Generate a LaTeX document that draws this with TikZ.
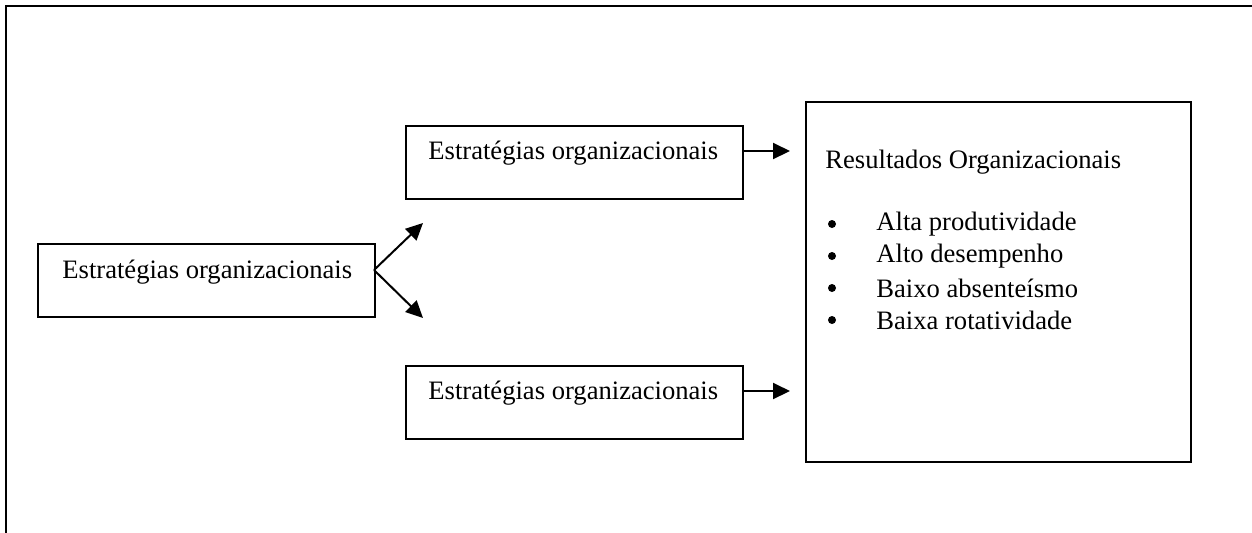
\documentclass[tikz,border=0pt]{standalone}
\usepackage{fontspec}
\setmainfont{Liberation Serif}
\usetikzlibrary{arrows.meta}
\begin{document}
\begin{tikzpicture}[x=0.5pt,y=-0.5pt,
  box/.style={draw,line width=1pt,inner sep=0pt},
  txt/.style={anchor=west,inner sep=0pt,font=\fontsize{13.3}{15}\selectfont},
  dot/.style={circle,fill,inner sep=0pt,minimum size=4pt},
  arr/.style={line width=1pt,-{Triangle[length=8.5pt,width=8pt]}}]
\useasboundingbox (0,0) rectangle (1252,532);
\draw[line width=1.3pt] (6,540) -- (6,6) -- (1260,6);
% boxes
\node[box,minimum width=337pt*0.5,minimum height=73pt*0.5] (b1) at (206.5,280.5) {};
\node[box,minimum width=337pt*0.5,minimum height=73pt*0.5] (b2) at (574.5,162.5) {};
\node[box,minimum width=337pt*0.5,minimum height=73pt*0.5] (b3) at (574.5,402.5) {};
\node[box,minimum width=385pt*0.5,minimum height=360pt*0.5] (r) at (998.5,282) {};
% texts
\node[txt] (t1) at (62,272) {Estratégias organizacionais};
\node[txt] (t2) at (428,153) {Estratégias organizacionais};
\node[txt] (t3) at (428,393) {Estratégias organizacionais};
\node[txt] (tr) at (825,162) {Resultados Organizacionais};
\foreach \y/\s [count=\i] in {224/Alta produtividade,256/Alto desempenho,288/Baixo absenteísmo,320/Baixa rotatividade}{
  \node[dot] (bul\i) at (832,\y) {};
  \node[txt] (it\i) at (876,\y) {\s};
}
% connectors
\coordinate (v) at (374,270);
\coordinate (ta) at (423,223);
\coordinate (tb) at (423,318);
\coordinate (a2) at (790,151);
\coordinate (a3) at (790,391);
\draw[arr] (v) -- (ta);
\draw[arr] (v) -- (tb);
\draw[arr] (b2.east |- a2) -- (a2);
\draw[arr] (b3.east |- a3) -- (a3);
\end{tikzpicture}
\end{document}
